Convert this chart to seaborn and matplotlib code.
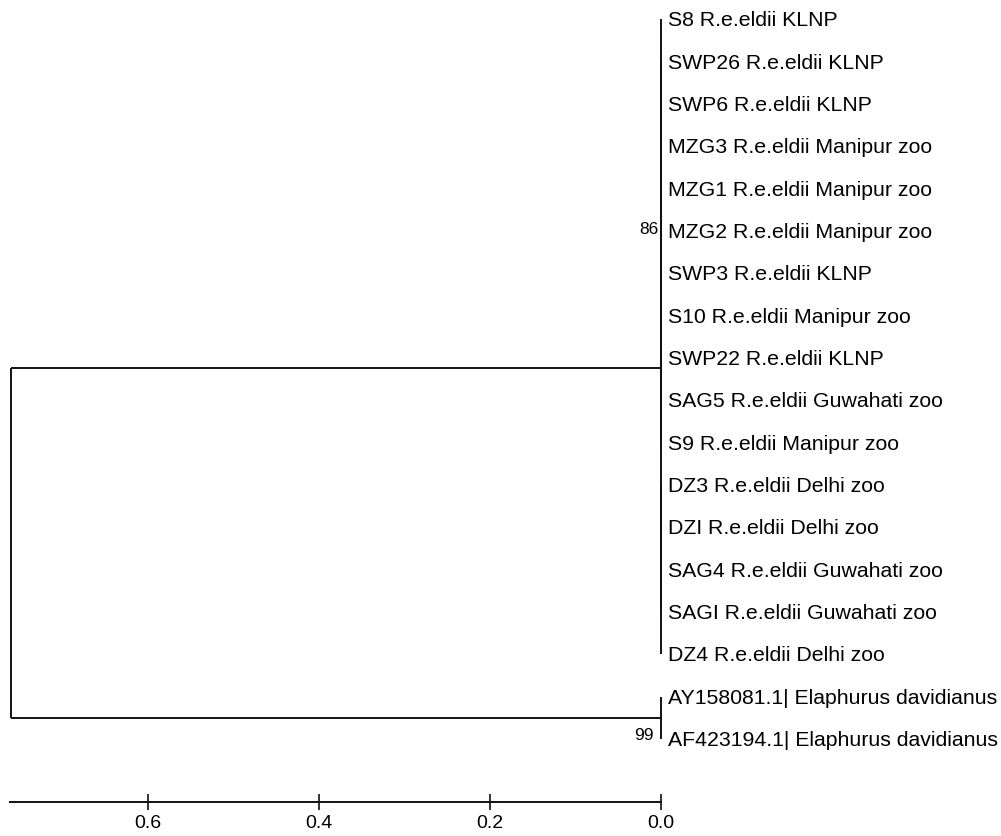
import matplotlib
matplotlib.use("Agg")
import matplotlib.pyplot as plt
import seaborn as sns

sns.set_style("white")
plt.rcParams['font.family'] = ['Liberation Sans', 'DejaVu Sans']

# tip labels, top to bottom
leaf_labels = [
    "S8 R.e.eldii KLNP",
    "SWP26 R.e.eldii KLNP",
    "SWP6 R.e.eldii KLNP",
    "MZG3 R.e.eldii Manipur zoo",
    "MZG1 R.e.eldii Manipur zoo",
    "MZG2 R.e.eldii Manipur zoo",
    "SWP3 R.e.eldii KLNP",
    "S10 R.e.eldii Manipur zoo",
    "SWP22 R.e.eldii KLNP",
    "SAG5 R.e.eldii Guwahati zoo",
    "S9 R.e.eldii Manipur zoo",
    "DZ3 R.e.eldii Delhi zoo",
    "DZI R.e.eldii Delhi zoo",
    "SAG4 R.e.eldii Guwahati zoo",
    "SAGI R.e.eldii Guwahati zoo",
    "DZ4 R.e.eldii Delhi zoo",
    "AY158081.1| Elaphurus davidianus",
    "AF423194.1| Elaphurus davidianus",
]

# internal nodes: children (leaf index or node name), height, bootstrap
node_children = {
    "root": ["ingroup", "outgroup"],
    "ingroup": ["ca", "cb"],
    "ca": [0, "c86"],
    "c86": [1, 2, 3, 4, 5, 6, 7, 8, 9, 10],
    "cb": ["c3", 15],
    "c3": [11, 12, 13, 14],
    "outgroup": [16, 17],
}
node_height = {"root": 0.76, "ingroup": 0.0, "ca": 0.0, "c86": 0.0,
               "cb": 0.0, "c3": 0.0, "outgroup": 0.0}
node_support = {"c86": "86", "outgroup": "99"}

scale_ticks = [0.0, 0.2, 0.4, 0.6]
scale_max = 0.7615

fig = plt.figure(figsize=(10.01, 8.37), dpi=100)
ax = fig.add_axes([10 / 1001, (837 - 803) / 837, 651 / 1001, 795.7 / 837])

pos = {}


def place(n):
    if isinstance(n, int):
        pos[n] = (0.0, n)
        return pos[n]
    ys = [place(c)[1] for c in node_children[n]]
    pos[n] = (node_height[n], (ys[0] + ys[-1]) / 2)
    return pos[n]


place("root")

lw = 1.4
for n, kids in node_children.items():
    x, y = pos[n]
    ys = [pos[c][1] for c in kids]
    ax.plot([x, x], [min(ys), max(ys)], color="#111111", lw=lw,
            solid_capstyle="butt", clip_on=False)
    for c in kids:
        cx, cy = pos[c]
        if cx != x:
            ax.plot([x, cx], [cy, cy], color="#111111", lw=lw,
                    solid_capstyle="butt", clip_on=False)

for i, lab in enumerate(leaf_labels):
    ax.annotate(lab, (0.0, i), xytext=(5, -0.5), textcoords="offset points",
                ha="left", va="center", fontsize=15.3, color="black",
                annotation_clip=False)

# bootstrap values sit left of the node
support_offset = {"c86": (-2, 17), "outgroup": (-5, -12)}
for n, s in node_support.items():
    x, y = pos[n]
    dx, dy = support_offset[n]
    ax.annotate(s, (x, y), xytext=(dx, dy), textcoords="offset points",
                ha="right", va="center", fontsize=12.5, color="black",
                annotation_clip=False)

ax.set_xlim(scale_max, 0)
ax.set_ylim(len(leaf_labels) - 1 + 1.49, -0.3)
for side in ["top", "right", "left"]:
    ax.spines[side].set_visible(False)
ax.spines["bottom"].set_color("#111111")
ax.spines["bottom"].set_linewidth(1.4)
ax.set_yticks([])
ax.set_xticks(scale_ticks)
ax.set_xticklabels([f"{t:.1f}" for t in scale_ticks], fontsize=14)
ax.tick_params(axis="x", direction="inout", length=11, width=1.2, pad=3,
               bottom=True, colors="#111111", labelcolor="black")
ax.grid(False)

fig.savefig("out.png", dpi=100)
